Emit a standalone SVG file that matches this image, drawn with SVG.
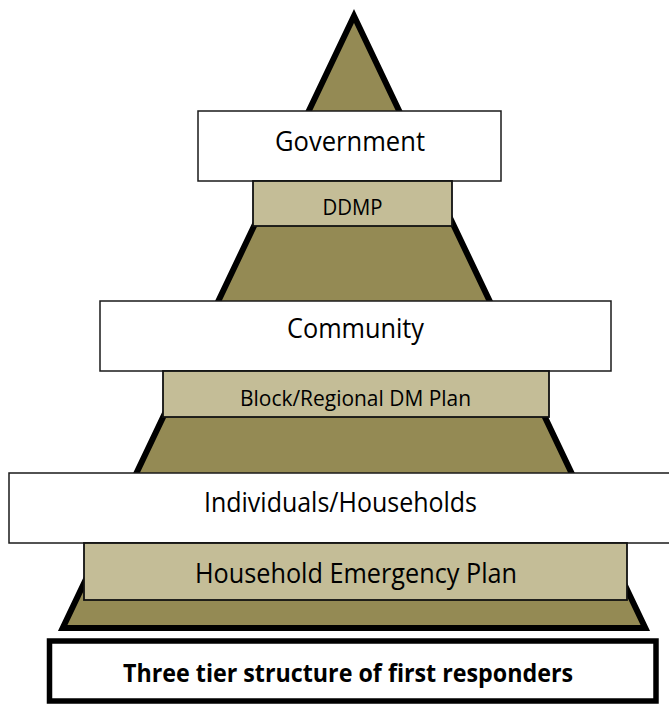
<svg xmlns="http://www.w3.org/2000/svg" width="669" height="704" viewBox="0 0 669 704">
<style>
.wbox{fill:#ffffff;stroke:#1a1a1a;stroke-width:1.5}
.tbox{fill:#C4BD97;stroke:#111;stroke-width:1.8}
.lbl{font-family:"Open Sans","Liberation Sans",sans-serif;fill:#000;text-anchor:middle}
.big{font-size:27px}
.small{font-size:21.5px}
.cap{font-size:25.5px;font-weight:bold}
</style>
<defs>
<clipPath id="clipBlock"><rect x="163" y="371" width="386" height="45"/></clipPath>
</defs>
<rect width="669" height="704" fill="#ffffff"/>
<g id="pyramid">
<path d="M354,16 L645.3,628 L62.7,628 Z" fill="#948A54" stroke="#000" stroke-width="6" stroke-linejoin="miter"/>
</g>
<g id="government">
<rect class="wbox" x="198" y="111" width="303" height="70"/>
<text class="lbl big" x="350" y="151" textLength="150" lengthAdjust="spacingAndGlyphs">Government</text>
</g>
<g id="ddmp">
<rect class="tbox" x="253" y="181" width="199" height="45"/>
<text class="lbl small" x="352.5" y="215" textLength="60" lengthAdjust="spacingAndGlyphs">DDMP</text>
</g>
<g id="community">
<rect class="wbox" x="100" y="301" width="511" height="70"/>
<text class="lbl big" x="355.5" y="338" textLength="137" lengthAdjust="spacingAndGlyphs">Community</text>
</g>
<g id="block">
<rect class="tbox" x="163" y="371" width="386" height="46"/>
<text class="lbl small" x="355.5" y="406" textLength="231" lengthAdjust="spacingAndGlyphs" clip-path="url(#clipBlock)">Block/Regional DM Plan</text>
</g>
<g id="individuals">
<rect class="wbox" x="9" y="473" width="664" height="70"/>
<text class="lbl big" x="340.5" y="512" textLength="273" lengthAdjust="spacingAndGlyphs">Individuals/Households</text>
</g>
<g id="household">
<rect class="tbox" x="84" y="543" width="543" height="57"/>
<text class="lbl big" x="356" y="583" textLength="322" lengthAdjust="spacingAndGlyphs">Household Emergency Plan</text>
</g>
<g id="caption">
<rect x="49.5" y="641" width="606.5" height="60" fill="#ffffff" stroke="#000" stroke-width="5.5"/>
<text class="lbl cap" x="348" y="682" textLength="450" lengthAdjust="spacingAndGlyphs">Three tier structure of first responders</text>
</g>
<g id="connectors"/>
</svg>
